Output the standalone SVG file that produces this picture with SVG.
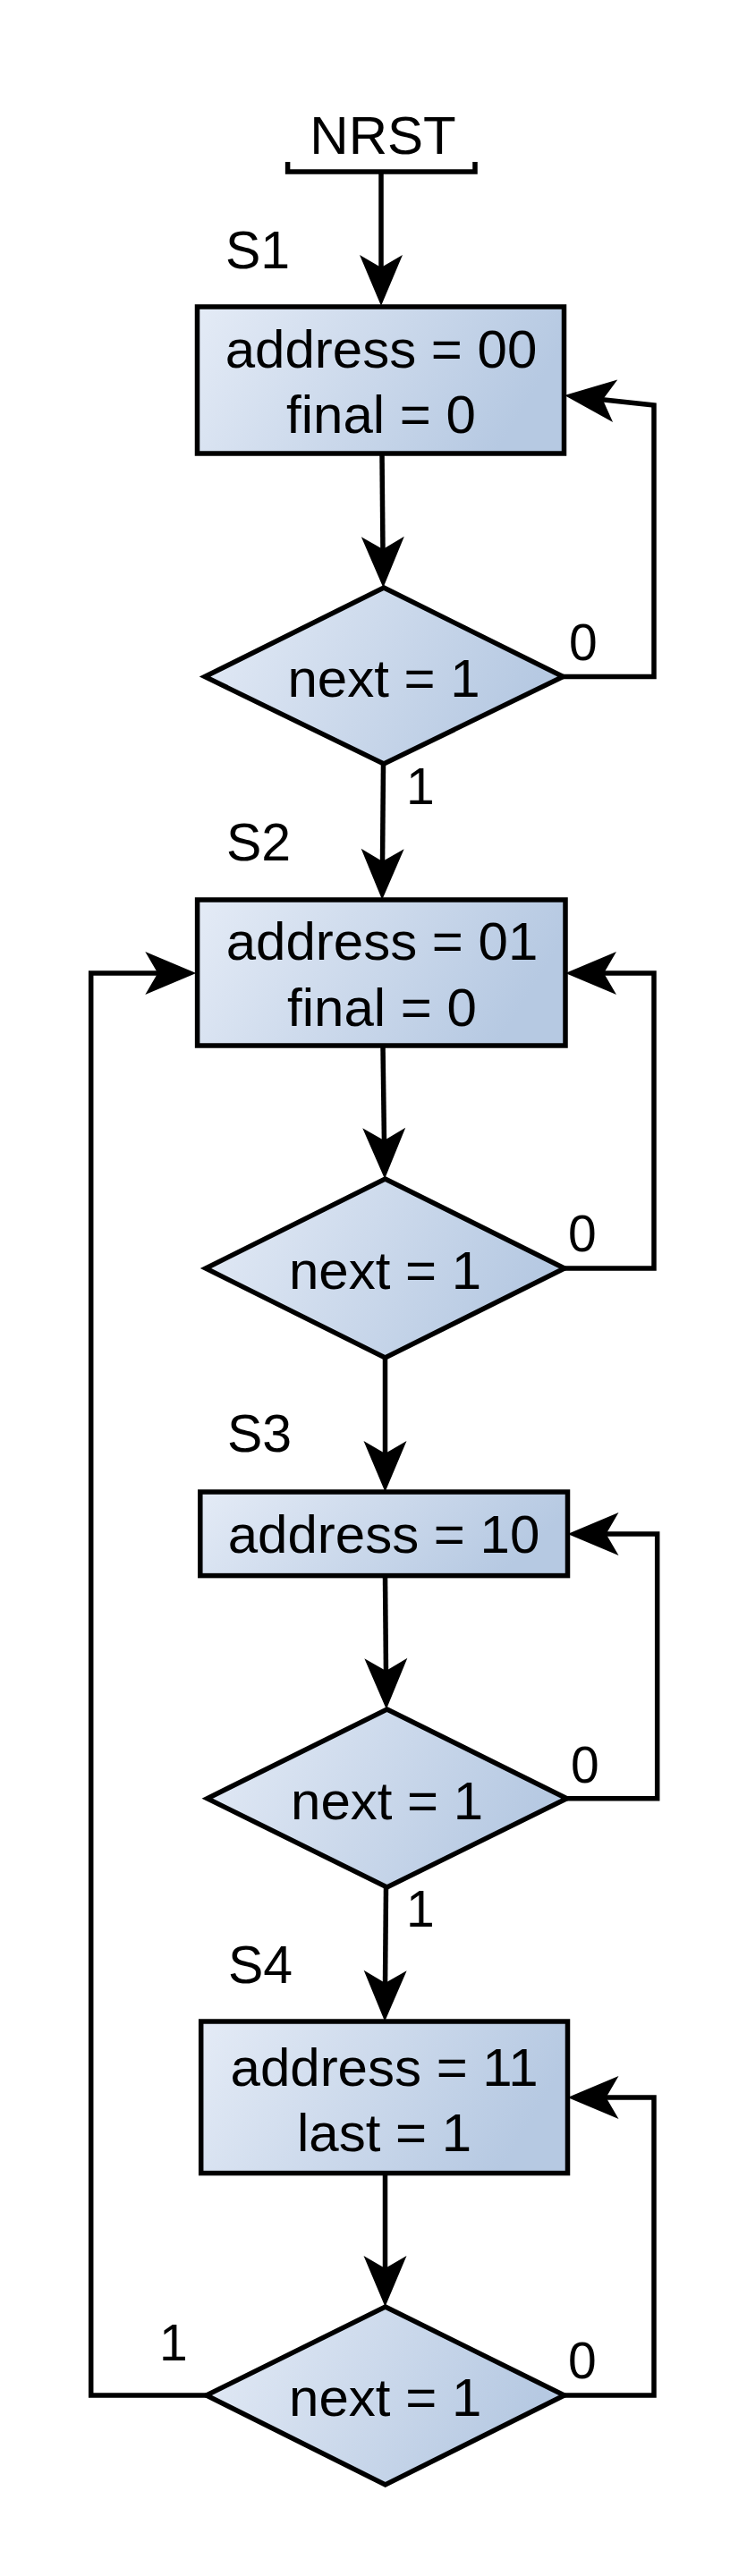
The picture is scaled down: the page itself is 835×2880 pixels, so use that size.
<svg xmlns="http://www.w3.org/2000/svg" width="835" height="2880" viewBox="0 0 835 2880">
<style>
.t{font-family:"Liberation Sans",Arial,Helvetica,sans-serif;font-size:60px;fill:#000}
.s{font-family:"Liberation Sans",Arial,Helvetica,sans-serif;font-size:59px;fill:#000}
.c{text-anchor:middle}
.l{font-family:"Liberation Sans",Arial,Helvetica,sans-serif;font-size:57px;fill:#000}
.shape{fill:url(#g);stroke:#000;stroke-width:5.5}
.ln{fill:none;stroke:#000;stroke-width:5.5;marker-end:url(#ah)}
.br{fill:none;stroke:#000;stroke-width:5.5}
</style>
<defs>
<linearGradient id="g" x1="0" y1="0" x2="1" y2="0.25">
<stop offset="0" stop-color="#e4ebf6"/>
<stop offset="1" stop-color="#b6c9e2"/>
</linearGradient>
<marker id="ah" markerUnits="userSpaceOnUse" viewBox="-20 -26 62 52" refX="0" refY="0" markerWidth="62" markerHeight="52" orient="auto" overflow="visible">
<path d="M40,0 L-17,-24 L-3,0 L-17,24 Z" fill="#000"/>
</marker>
</defs>

<g id="connectors">
<path class="br" d="M321.6,181 V192 H531 V181"/>
<path class="ln" d="M426,192 V302"/>
<path class="ln" d="M427,507 L428,617"/>
<path class="ln" d="M629,756.5 H731 V453 L670.8,446.4"/>
<path class="ln" d="M428.5,854 L427.5,966"/>
<path class="ln" d="M428,1169 L429.5,1278"/>
<path class="ln" d="M430.5,1518 V1628"/>
<path class="ln" d="M631,1418 H731 V1088 H672"/>
<path class="ln" d="M430.5,1762 L431.5,1871"/>
<path class="ln" d="M633.6,2010.7 H734.7 V1715 H674.5"/>
<path class="ln" d="M431.5,2110 L430.5,2220"/>
<path class="ln" d="M430.5,2430 V2539"/>
<path class="ln" d="M630.8,2678 H731 V2345 H674.5"/>
<path class="ln" d="M230.7,2678 H101.7 V1088 H179.3"/>
</g>

<g id="nrst">
<text class="t c" x="428" y="172">NRST</text>
</g>

<g id="s1">
<text class="s" x="252" y="300">S1</text>
<rect class="shape" x="220.5" y="343" width="410" height="164"/>
<text class="t c" x="426" y="411">address = 00</text>
<text class="t c" x="426" y="484">final = 0</text>
</g>

<g id="d1">
<polygon class="shape" points="429,657 629.4,756.5 429,854 229,756.5"/>
<text class="t c" x="429" y="779">next = 1</text>
<text class="l" x="636" y="738">0</text>
<text class="l" x="454" y="899">1</text>
</g>

<g id="s2">
<text class="s" x="253" y="962">S2</text>
<rect class="shape" x="220.6" y="1006" width="411.4" height="163"/>
<text class="t c" x="427" y="1073">address = 01</text>
<text class="t c" x="427" y="1147">final = 0</text>
</g>

<g id="d2">
<polygon class="shape" points="430.5,1318 631,1418 430.5,1518 230,1418"/>
<text class="t c" x="430.5" y="1441">next = 1</text>
<text class="l" x="635" y="1399">0</text>
</g>

<g id="s3">
<text class="s" x="254" y="1623">S3</text>
<rect class="shape" x="223.8" y="1668" width="410.7" height="93.6"/>
<text class="t c" x="429" y="1736">address = 10</text>
</g>

<g id="d3">
<polygon class="shape" points="432.6,1911 633.6,2010.7 432.6,2110 231.7,2010.7"/>
<text class="t c" x="432.6" y="2034">next = 1</text>
<text class="l" x="638" y="1993">0</text>
<text class="l" x="454" y="2154">1</text>
</g>

<g id="s4">
<text class="s" x="255" y="2217">S4</text>
<rect class="shape" x="224.7" y="2260" width="409.8" height="169.6"/>
<text class="t c" x="429.6" y="2332">address = 11</text>
<text class="t c" x="429.6" y="2405">last = 1</text>
</g>

<g id="d4">
<polygon class="shape" points="430.7,2579 630.8,2678 430.7,2778 230.7,2678"/>
<text class="t c" x="430.7" y="2701">next = 1</text>
<text class="l" x="635" y="2659">0</text>
<text class="l" x="178" y="2639">1</text>
</g>
</svg>
